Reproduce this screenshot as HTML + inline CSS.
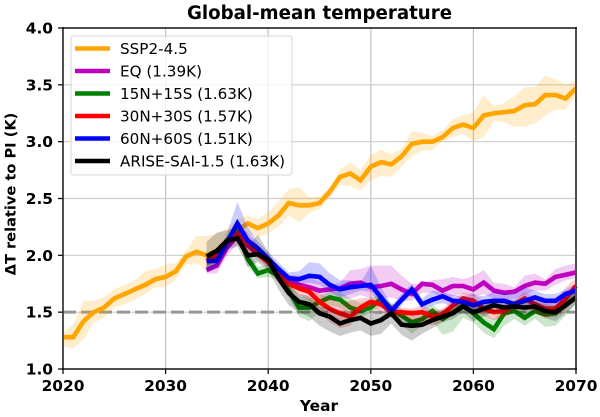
<!DOCTYPE html>
<html>
<head>
<meta charset="utf-8">
<title>Global-mean temperature</title>
<style>
html,body{margin:0;padding:0;background:#fff;width:600px;height:417px;overflow:hidden}
svg{display:block;font-family:"DejaVu Sans","Liberation Sans",sans-serif;filter:blur(0.35px)}
</style>
</head>
<body>
<svg id="chart" width="600" height="417" viewBox="0 0 600 417" xmlns="http://www.w3.org/2000/svg"></svg>
<script>
const xTicks = [2020, 2030, 2040, 2050, 2060, 2070];
const yTicks = [1.0, 1.5, 2.0, 2.5, 3.0, 3.5, 4.0];
const referenceLevel = 1.5;
const ssp = [1.28,1.28,1.42,1.50,1.54,1.62,1.66,1.70,1.74,1.79,1.81,1.86,1.99,2.03,2.00,2.04,2.12,2.22,2.28,2.24,2.28,2.35,2.46,2.44,2.44,2.46,2.56,2.69,2.72,2.66,2.78,2.82,2.80,2.87,2.98,3.00,3.00,3.04,3.12,3.15,3.12,3.23,3.25,3.26,3.27,3.32,3.33,3.41,3.41,3.38,3.47];
const sspUpper = [1.32,1.39,1.60,1.60,1.63,1.70,1.74,1.78,1.86,1.88,1.92,1.93,2.04,2.17,2.17,2.19,2.24,2.32,2.35,2.32,2.38,2.47,2.58,2.60,2.51,2.52,2.59,2.75,2.82,2.75,2.88,2.93,2.89,2.94,3.09,3.08,3.05,3.10,3.20,3.23,3.26,3.41,3.31,3.34,3.40,3.48,3.48,3.58,3.55,3.50,3.54];
const sspLower = [1.20,1.18,1.26,1.41,1.45,1.54,1.57,1.61,1.66,1.72,1.72,1.79,1.92,1.93,1.87,1.95,2.05,2.14,2.19,2.16,2.19,2.25,2.35,2.29,2.37,2.41,2.51,2.62,2.61,2.57,2.66,2.70,2.69,2.78,2.87,2.92,2.93,3.00,3.04,3.07,3.00,3.04,3.18,3.17,3.13,3.13,3.16,3.23,3.28,3.28,3.41];
const eq = [1.87,1.91,2.07,2.17,2.13,2.04,1.94,1.87,1.79,1.74,1.72,1.69,1.70,1.71,1.75,1.76,1.72,1.73,1.75,1.70,1.66,1.75,1.74,1.69,1.73,1.73,1.70,1.76,1.69,1.67,1.68,1.73,1.76,1.75,1.81,1.83,1.85];
const eqUpper = [1.92,2.00,2.14,2.27,2.20,2.09,1.99,1.91,1.83,1.82,1.80,1.77,1.74,1.76,1.87,1.88,1.91,1.91,1.91,1.82,1.75,1.75,1.78,1.79,1.81,1.79,1.82,1.87,1.76,1.75,1.72,1.82,1.84,1.79,1.88,1.91,1.93];
const eqLower = [1.84,1.84,2.00,2.09,2.06,1.99,1.89,1.82,1.74,1.69,1.67,1.64,1.62,1.62,1.62,1.65,1.62,1.62,1.63,1.60,1.60,1.67,1.67,1.62,1.64,1.66,1.64,1.66,1.62,1.60,1.62,1.65,1.69,1.69,1.74,1.78,1.80];
const n15 = [1.95,2.00,2.13,2.20,1.97,1.84,1.87,1.82,1.69,1.54,1.54,1.59,1.63,1.61,1.54,1.51,1.54,1.62,1.53,1.47,1.41,1.44,1.51,1.44,1.50,1.56,1.49,1.41,1.35,1.49,1.51,1.45,1.51,1.48,1.49,1.57,1.63];
const n15Upper = [1.99,2.06,2.17,2.25,2.05,1.90,1.92,1.86,1.75,1.64,1.62,1.64,1.69,1.68,1.62,1.58,1.62,1.66,1.58,1.53,1.47,1.52,1.57,1.49,1.55,1.60,1.56,1.49,1.44,1.55,1.55,1.52,1.57,1.52,1.55,1.63,1.68];
const n15Lower = [1.91,1.95,2.09,2.15,1.90,1.80,1.81,1.78,1.63,1.46,1.42,1.50,1.56,1.54,1.48,1.45,1.50,1.55,1.46,1.39,1.31,1.38,1.42,1.30,1.33,1.45,1.41,1.32,1.27,1.38,1.44,1.38,1.44,1.37,1.38,1.47,1.58];
const n30 = [1.95,2.00,2.12,2.19,2.09,2.01,1.94,1.85,1.75,1.71,1.68,1.59,1.53,1.49,1.46,1.54,1.59,1.57,1.50,1.50,1.49,1.50,1.46,1.48,1.56,1.62,1.60,1.53,1.50,1.51,1.57,1.62,1.57,1.53,1.53,1.62,1.73];
const n30Upper = [2.00,2.05,2.16,2.24,2.14,2.05,1.98,1.90,1.80,1.76,1.73,1.66,1.62,1.58,1.60,1.62,1.63,1.60,1.57,1.54,1.53,1.56,1.52,1.53,1.61,1.67,1.66,1.60,1.57,1.57,1.61,1.68,1.64,1.60,1.60,1.72,1.80];
const n30Lower = [1.91,1.95,2.07,2.14,2.03,1.96,1.89,1.80,1.70,1.65,1.60,1.50,1.41,1.36,1.38,1.50,1.54,1.50,1.45,1.45,1.43,1.42,1.38,1.42,1.50,1.55,1.52,1.47,1.43,1.45,1.51,1.55,1.49,1.45,1.46,1.52,1.64];
const n60 = [1.95,1.95,2.12,2.28,2.13,2.06,1.97,1.88,1.80,1.79,1.82,1.81,1.74,1.70,1.72,1.73,1.74,1.63,1.51,1.61,1.70,1.57,1.61,1.64,1.60,1.59,1.56,1.59,1.60,1.60,1.57,1.60,1.63,1.60,1.60,1.66,1.69];
const n60Upper = [1.97,2.00,2.20,2.47,2.25,2.12,2.03,1.94,1.85,1.86,1.94,1.93,1.84,1.78,1.78,1.76,1.91,1.72,1.56,1.66,1.75,1.62,1.69,1.68,1.65,1.64,1.66,1.64,1.68,1.67,1.66,1.72,1.69,1.66,1.66,1.70,1.75];
const n60Lower = [1.85,1.89,2.05,2.15,2.05,2.00,1.92,1.83,1.75,1.74,1.76,1.74,1.68,1.63,1.66,1.69,1.68,1.56,1.45,1.56,1.66,1.52,1.56,1.58,1.55,1.55,1.50,1.54,1.55,1.54,1.52,1.55,1.57,1.54,1.55,1.61,1.65];
const arise = [1.99,2.04,2.13,2.15,2.00,2.01,1.96,1.80,1.67,1.59,1.57,1.49,1.46,1.40,1.43,1.45,1.40,1.43,1.49,1.39,1.38,1.39,1.43,1.46,1.49,1.55,1.50,1.53,1.56,1.54,1.55,1.54,1.55,1.51,1.50,1.56,1.63];
const ariseUpper = [2.12,2.20,2.22,2.25,2.08,2.18,2.03,1.88,1.74,1.66,1.64,1.55,1.54,1.50,1.51,1.52,1.48,1.50,1.54,1.47,1.44,1.45,1.50,1.52,1.56,1.60,1.58,1.58,1.61,1.59,1.60,1.60,1.60,1.57,1.56,1.62,1.68];
const ariseLower = [1.87,1.92,2.05,2.08,1.90,1.94,1.87,1.70,1.56,1.50,1.46,1.38,1.33,1.29,1.32,1.34,1.29,1.31,1.40,1.30,1.25,1.31,1.36,1.41,1.44,1.50,1.42,1.46,1.50,1.48,1.50,1.47,1.49,1.45,1.42,1.49,1.57];
const legendLabels = ["SSP2-4.5","EQ (1.39K)","15N+15S (1.63K)","30N+30S (1.57K)","60N+60S (1.51K)","ARISE-SAI-1.5 (1.63K)"];

const NS = "http://www.w3.org/2000/svg";
const svg = document.getElementById("chart");
const L = 63, R = 576, T = 28, B = 369;
const xScale = yr => L + (yr - 2020) * (R - L) / 50;
const yScale = v => B - (v - 1) * (B - T) / 3;

function mk(tag, attrs, parent) {
  const el = document.createElementNS(NS, tag);
  for (const k in attrs) el.setAttribute(k, attrs[k]);
  (parent || svg).appendChild(el);
  return el;
}

const gridGroup = mk("g", {});


xTicks.slice(1, -1).forEach(t => {
  const g = mk("line", {x1:xScale(t), x2:xScale(t), y1:T, y2:B, stroke:"#c4c4c4", "stroke-width":1.2}, gridGroup);
  
  
});
yTicks.slice(1, -1).forEach(t => {
  const g = mk("line", {x1:L, x2:R, y1:yScale(t), y2:yScale(t), stroke:"#cdcdcd", "stroke-width":1.2}, gridGroup);
  
  
});

const refLine = mk("line", {x1:L, x2:R, y1:yScale(referenceLevel), y2:yScale(referenceLevel), stroke:"#979797", "stroke-width":3, "stroke-dasharray":"13 5"});



function drawSeries(name, color, startYear, mean, upper, lower, bandOpacity) {
  const g = mk("g", {});
  
  
  const up = upper.map((v, i) => xScale(startYear + i).toFixed(1) + "," + yScale(v).toFixed(1));
  const lo = lower.map((v, i) => xScale(startYear + i).toFixed(1) + "," + yScale(v).toFixed(1)).reverse();
  const band = mk("polygon", {points: up.concat(lo).join(" "), fill: color, "fill-opacity": bandOpacity}, g);
  
  
  const pts = mean.map((v, i) => xScale(startYear + i).toFixed(1) + "," + yScale(v).toFixed(1)).join(" ");
  const line = mk("polyline", {points: pts, fill: "none", stroke: color, "stroke-width": 4.6, "stroke-linejoin": "miter", "stroke-linecap": "butt"}, g);
  
  
}
drawSeries("ssp245", "#ffa500", 2020, ssp, sspUpper, sspLower, 0.2);
drawSeries("eq", "#bf00bf", 2034, eq, eqUpper, eqLower, 0.2);
drawSeries("15n15s", "#008000", 2034, n15, n15Upper, n15Lower, 0.2);
drawSeries("30n30s", "#ff0000", 2034, n30, n30Upper, n30Lower, 0.2);
drawSeries("60n60s", "#0000ff", 2034, n60, n60Upper, n60Lower, 0.2);
drawSeries("arise-sai", "#000000", 2034, arise, ariseUpper, ariseLower, 0.2);

const frame = mk("g", {});


mk("line", {x1:L, x2:L, y1:T-1, y2:B+1, stroke:"#505050", "stroke-width":2}, frame);
mk("line", {x1:R, x2:R, y1:T-1, y2:B+1, stroke:"#505050", "stroke-width":2}, frame);
mk("line", {x1:L-1, x2:R+1, y1:T, y2:T, stroke:"#111", "stroke-width":1.4}, frame);
mk("line", {x1:L-1, x2:R+1, y1:B, y2:B, stroke:"#111", "stroke-width":1.4}, frame);

xTicks.forEach(t => {
  const m = mk("line", {x1:xScale(t), x2:xScale(t), y1:B, y2:B+5, stroke:"#111", "stroke-width":1.3});
  
  
  const l = mk("text", {x:xScale(t), y:391, "text-anchor":"middle", "font-size":"15.4px", "font-weight":"bold", fill:"#000"});
  l.textContent = String(t);
  
  
});
yTicks.forEach(t => {
  const m = mk("line", {x1:L-5, x2:L, y1:yScale(t), y2:yScale(t), stroke:"#111", "stroke-width":1.3});
  
  
  const l = mk("text", {x:53, y:yScale(t)+5.5, "text-anchor":"end", "font-size":"15.4px", "font-weight":"bold", fill:"#000"});
  l.textContent = t.toFixed(1);
  
  
});

const title = mk("text", {x:319.5, y:19, "text-anchor":"middle", "font-size":"18.2px", "font-weight":"bold", fill:"#000"});
title.textContent = "Global-mean temperature";



const xTitle = mk("text", {x:319, y:411, "text-anchor":"middle", "font-size":"15.4px", "font-weight":"bold", fill:"#000"});
xTitle.textContent = "Year";



const yTitle = mk("text", {x:0, y:0, transform:"translate(15.5,194) rotate(-90)", "text-anchor":"middle", "font-size":"14.6px", "font-weight":"bold", fill:"#000"});
yTitle.textContent = "ΔT relative to PI (K)";



const legend = mk("g", {});


const legendBox = mk("rect", {x:71, y:36, width:221, height:139, rx:2.5, fill:"#fff", "fill-opacity":0.8, stroke:"#d4d4d4", "stroke-width":1}, legend);


const legendColors = ["#ffa500","#bf00bf","#008000","#ff0000","#0000ff","#000000"];
legendLabels.forEach((label, i) => {
  const rowY = 48.5 + i * 22.5;
  const h = mk("line", {x1:75, x2:110, y1:rowY, y2:rowY, stroke:legendColors[i], "stroke-width":4.6}, legend);
  
  
  const tx = mk("text", {x:120, y:rowY+5.5, "font-size":"15.2px", fill:"#000"}, legend);
  tx.textContent = label;
  
  
});
</script>
</body>
</html>
